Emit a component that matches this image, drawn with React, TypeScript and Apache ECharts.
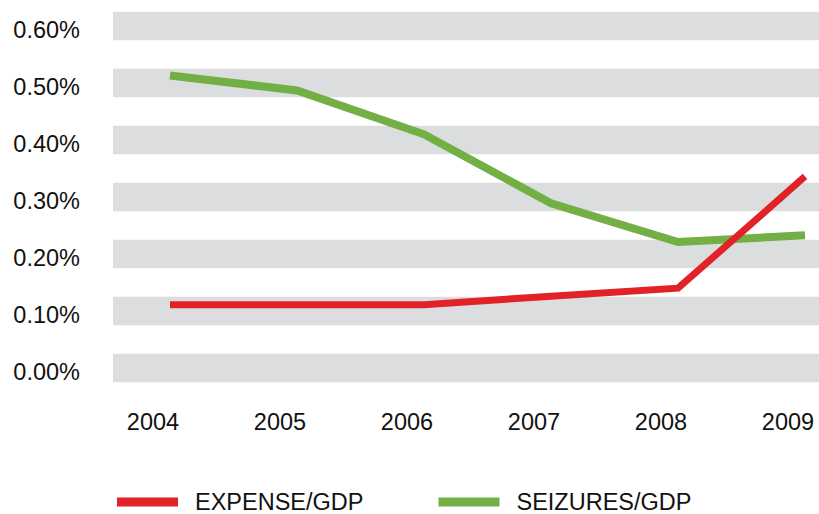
import React, { useEffect, useRef } from "react";
import * as echarts from "echarts";

const years = ["2004", "2005", "2006", "2007", "2008", "2009"];
const expenseGdp = [0.111, 0.111, 0.111, 0.126, 0.14, 0.336];
const seizuresGdp = [0.513, 0.487, 0.41, 0.289, 0.221, 0.233];
const yTicks = [0, 0.1, 0.2, 0.3, 0.4, 0.5, 0.6];
const seriesNames = ["EXPENSE/GDP", "SEIZURES/GDP"];

const FONT = "'Liberation Sans', Arial, Helvetica, sans-serif";
const RED = "#E12328";
const GREEN = "#72AF45";
const BAND = "#DCDDDF";
const HALF = 0.025;

export default function App() {
  const ref = useRef<HTMLDivElement>(null);
  useEffect(() => {
    document.body.style.margin = "0";
    if (!ref.current) return;
    const chart = echarts.init(ref.current, null, { renderer: "svg" });
    const bands = yTicks.map((t) => [{ yAxis: t - HALF }, { yAxis: t + HALF }]);
    chart.setOption({
      animation: false,
      backgroundColor: "#ffffff",
      textStyle: { fontFamily: FONT },
      grid: [
        { left: 113, right: 0, top: 11.75, bottom: 131.75 },
        { left: 170, right: 14, top: 26, bottom: 146 },
      ],
      xAxis: [
        { gridIndex: 0, type: "value", min: 0, max: 1, show: false },
        {
          gridIndex: 1,
          type: "category",
          data: years,
          boundaryGap: false,
          axisLine: { show: false },
          axisTick: { show: false },
          splitLine: { show: false },
          axisLabel: {
            margin: 42,
            fontSize: 23.5,
            color: "#111",
            fontFamily: FONT,
            padding: [0, 34, 0, 0],
          },
        },
      ],
      yAxis: [
        { gridIndex: 0, type: "value", min: -HALF, max: 0.6 + HALF, show: false },
        {
          gridIndex: 1,
          type: "value",
          min: 0,
          max: 0.6,
          interval: 0.1,
          axisLine: { show: false },
          axisTick: { show: false },
          splitLine: { show: false },
          axisLabel: {
            margin: 90,
            fontSize: 23.5,
            color: "#111",
            fontFamily: FONT,
            verticalAlign: "top",
            lineHeight: 7,
            formatter: (v: number) => v.toFixed(2) + "%",
          },
        },
      ],
      legend: {
        left: 117,
        top: 490,
        padding: 0,
        icon: "rect",
        itemWidth: 61,
        itemHeight: 9,
        itemGap: 75,
        data: seriesNames,
        textStyle: {
          fontSize: 23.5,
          lineHeight: 24,
          color: "#111",
          fontFamily: FONT,
          padding: [0, 0, 0, 12],
        },
      },
      series: [
        {
          type: "scatter",
          xAxisIndex: 0,
          yAxisIndex: 0,
          data: [[0.5, 0.3]],
          symbolSize: 0,
          silent: true,
          z: 0,
          markArea: {
            silent: true,
            itemStyle: { color: BAND },
            data: bands,
          },
        },
        {
          name: seriesNames[1],
          type: "line",
          xAxisIndex: 1,
          yAxisIndex: 1,
          data: seizuresGdp,
          showSymbol: false,
          symbol: "none",
          lineStyle: { color: GREEN, width: 8, cap: "butt", join: "miter" },
          itemStyle: { color: GREEN },
          z: 3,
        },
        {
          name: seriesNames[0],
          type: "line",
          xAxisIndex: 1,
          yAxisIndex: 1,
          data: expenseGdp,
          showSymbol: false,
          symbol: "none",
          lineStyle: { color: RED, width: 7, cap: "butt", join: "miter" },
          itemStyle: { color: RED },
          z: 4,
        },
      ],
    });
    return () => chart.dispose();
  }, []);
  return <div ref={ref} style={{ width: 819, height: 514 }} />;
}
